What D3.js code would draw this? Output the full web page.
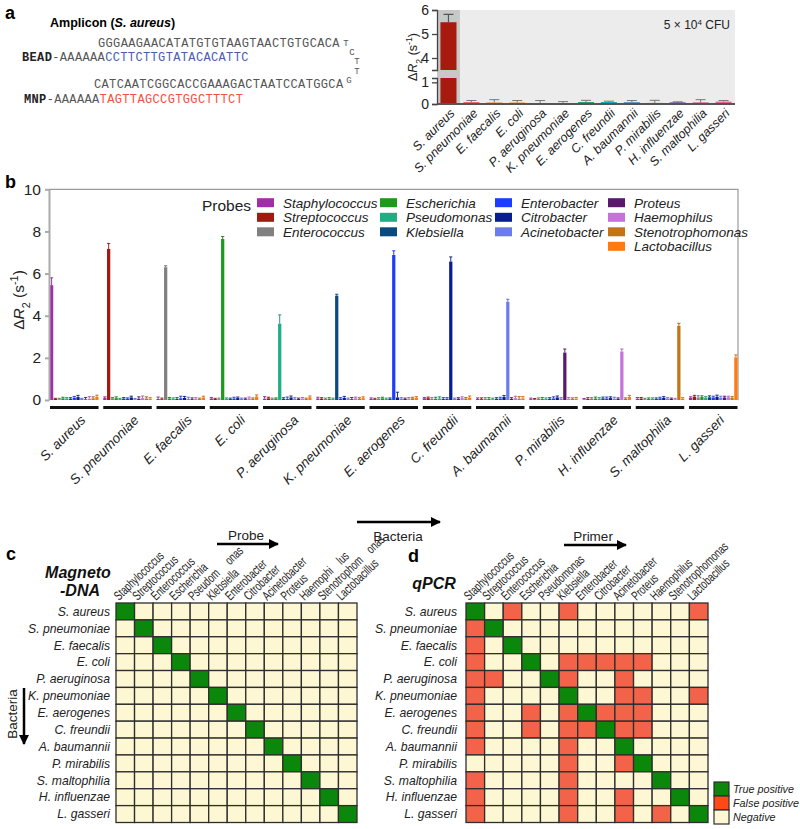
<!DOCTYPE html>
<html><head><meta charset="utf-8">
<script src="https://cdn.jsdelivr.net/npm/d3@7"></script>
<style>body{margin:0;background:#fff} text{font-family:"Liberation Sans",Arial,sans-serif}</style>
</head><body><svg id="c" width="800" height="829"></svg>
<script>
// ---------- DATA ----------
const bacteriaA = ["S. aureus","S. pneumoniae","E. faecalis","E. coli","P. aeruginosa","K. pneumoniae","E. aerogenes","C. freundii","A. baumannii","P. mirabilis","H. influenzae","S. maltophilia","L. gasseri"];
const valuesA = [5.49,0.08,0.07,0.07,0.04,0.04,0.09,0.09,0.08,0.05,0.07,0.07,0.11];
const errorsA = [0.33,0.08,0.13,0.09,0.12,0.07,0.08,0.04,0.08,0.12,0.03,0.13,0.05];
const colorsA = ["#a81a0e","#e8404a","#e0802a","#e0902a","#c8b040","#40a868","#20a060","#10a8b0","#4078a8","#4a5a98","#602088","#c8308a","#e86098"];
const yTicksAUpper = [4,5,6];
const yTicksALower = [0,1];

const bacteriaB = ["S. aureus","S. pneumoniae","E. faecalis","E. coli","P. aeruginosa","K. pneumoniae","E. aerogenes","C. freundii","A. baumannii","P. mirabilis","H. influenzae","S. maltophilia","L. gasseri"];
const probes = ["Staphylococcus","Streptococcus","Enterococcus","Escherichia","Pseudomonas","Klebsiella","Enterobacter","Citrobacter","Acinetobacter","Proteus","Haemophilus","Stenotrophomonas","Lactobacillus"];
const probeColors = ["#a02ea8","#a3180f","#808080","#1c9a1c","#1eae84","#0b4a80","#1c3cff","#0a1c94","#6c7cee","#5a1a6c","#c474d8","#c47412","#ff7a12"];
const signalB = [
 [5.45,0.05,0.04,0.08,0.07,0.06,0.11,0.14,0.05,0.03,0.06,0.08,0.15],
 [0.10,7.17,0.08,0.09,0.05,0.07,0.06,0.12,0.04,0.06,0.09,0.07,0.06],
 [0.05,0.04,6.30,0.07,0.06,0.05,0.08,0.10,0.05,0.04,0.06,0.05,0.12],
 [0.07,0.05,0.04,7.64,0.06,0.05,0.07,0.09,0.05,0.04,0.08,0.06,0.16],
 [0.06,0.08,0.05,0.07,3.62,0.06,0.05,0.12,0.06,0.05,0.07,0.05,0.13],
 [0.07,0.06,0.05,0.06,0.05,4.95,0.06,0.10,0.05,0.04,0.08,0.06,0.09],
 [0.05,0.04,0.06,0.08,0.05,0.06,6.88,0.12,0.06,0.05,0.07,0.08,0.10],
 [0.08,0.09,0.05,0.06,0.07,0.05,0.06,6.57,0.05,0.06,0.09,0.07,0.11],
 [0.05,0.04,0.06,0.05,0.04,0.06,0.07,0.14,4.66,0.05,0.09,0.06,0.08],
 [0.04,0.03,0.05,0.06,0.05,0.06,0.07,0.12,0.06,2.25,0.06,0.05,0.07],
 [0.03,0.05,0.06,0.07,0.06,0.08,0.07,0.09,0.06,0.05,2.30,0.05,0.14],
 [0.06,0.07,0.04,0.05,0.06,0.05,0.08,0.10,0.06,0.05,0.04,3.52,0.06],
 [0.10,0.16,0.12,0.14,0.11,0.13,0.12,0.15,0.11,0.12,0.13,0.10,2.02]
];
const errorB = [
 [0.35,0.03,0.04,0.05,0.04,0.05,0.06,0.08,0.03,0.09,0.10,0.07,0.08],
 [0.05,0.26,0.04,0.06,0.03,0.05,0.04,0.06,0.03,0.09,0.10,0.08,0.05],
 [0.09,0.05,0.07,0.05,0.04,0.06,0.10,0.07,0.08,0.06,0.05,0.04,0.06],
 [0.05,0.03,0.05,0.12,0.04,0.04,0.06,0.05,0.04,0.05,0.06,0.04,0.08],
 [0.10,0.05,0.04,0.03,0.42,0.05,0.09,0.07,0.05,0.04,0.05,0.04,0.06],
 [0.06,0.05,0.04,0.05,0.04,0.07,0.05,0.07,0.04,0.08,0.06,0.05,0.06],
 [0.05,0.04,0.05,0.05,0.04,0.04,0.20,0.25,0.05,0.04,0.05,0.05,0.06],
 [0.04,0.05,0.06,0.07,0.08,0.06,0.05,0.22,0.04,0.05,0.06,0.05,0.08],
 [0.05,0.06,0.05,0.06,0.05,0.05,0.06,0.07,0.12,0.06,0.09,0.10,0.08],
 [0.05,0.04,0.05,0.06,0.05,0.05,0.08,0.07,0.05,0.17,0.06,0.05,0.05],
 [0.04,0.06,0.05,0.07,0.05,0.06,0.07,0.06,0.07,0.05,0.12,0.05,0.08],
 [0.06,0.05,0.04,0.05,0.04,0.05,0.05,0.06,0.05,0.04,0.04,0.12,0.05],
 [0.05,0.06,0.08,0.06,0.05,0.07,0.06,0.08,0.07,0.06,0.05,0.06,0.12]
];
const yTicksB = [0,2,4,6,8,10];

const matrixRows = ["S. aureus","S. pneumoniae","E. faecalis","E. coli","P. aeruginosa","K. pneumoniae","E. aerogenes","C. freundii","A. baumannii","P. mirabilis","S. maltophilia","H. influenzae","L. gasseri"];
const headersC = ["Staphylococcus","Streptococcus","Enterococcus","Escherichia","Pseudom     onas","Klebsiella","Enterobacter","Citrobacter","Acinetobacter","Proteus","Haemophi    lus","Stenotrophom    onas","Lactobacillus"];
const headersD = ["Staphylococcus","Streptococcus","Enterococcus","Escherichia","Pseudomonas","Klebsiella","Enterobacter","Citrobacter","Acinetobacter","Proteus","Haemophilus","Stenotrophomonas","Lactobacillus"];
// T = true positive, F = false positive, . = negative
const magnetoDNA = [
 "T............",".T...........","..T..........","...T.........","....T........",".....T.......","......T......",
 ".......T.....","........T....",".........T...","..........T..","...........T.","............T"];
const qPCR = [
 "T.F..F......F","FT...........","F.T..........","F..T.FFFFF...","FF..TF..F....","F....T..FF..F","F..F.FTFFF...",
 "F..F.FFTFF...","F....F..T....",".....F..FT...","F....F....T..","F....F..F..T.","F....F..F.F.T"];
const legendD = [["T","True positive"],["F","False positive"],[".","Negative"]];

// ---------- DRAW ----------
const svg = d3.select("#c");
svg.append("rect").attr("width",800).attr("height",829).attr("fill","#fff");
const MONO = "'Liberation Mono','DejaVu Sans Mono',monospace";
const CHAR_W = 7.56;

function dR2(t, size){
  t.append("tspan").text("Δ");
  t.append("tspan").attr("font-style","italic").text("R");
  t.append("tspan").attr("font-size",size*0.7).attr("baseline-shift","sub").text("2");
  t.append("tspan").text(" (s");
  t.append("tspan").attr("font-size",size*0.7).attr("baseline-shift","super").text("-1");
  t.append("tspan").text(")");
}
function panelLabel(x,y,l){ svg.append("text").attr("x",x).attr("y",y).attr("font-size",18).attr("font-weight","bold").text(l); }

// ===== Panel a (left) =====
panelLabel(5,19,"a");
const am = svg.append("text").attr("x",50).attr("y",27).attr("font-size",12.5).attr("font-weight","bold");
am.append("tspan").text("Amplicon (");
am.append("tspan").attr("font-style","italic").text("S. aureus");
am.append("tspan").text(")");
function seq(x,y,parts){
  const t = svg.append("text").attr("y",y).style("font-family",MONO).attr("font-size",12);
  let i = 0;
  parts.forEach(p=>{
    const xs = p[0].split("").map((_,j)=>(x+(i+j)*CHAR_W).toFixed(2)).join(" ");
    const s=t.append("tspan").attr("x",xs).attr("fill",p[1]).text(p[0]);
    if(p[2]) s.attr("font-weight","bold");
    i += p[0].length;
  });
}
seq(98,47,[["GGGAAGAACATATGTGTAAGTAACTGTGCACA","#555"]]);
seq(22,61,[["BEAD","#222",1],["-AAAAAA","#555"],["CCTTCTTGTATACACATTC","#4a5cb0"]]);
seq(94,88,[["CATCAATCGGCACCGAAAGACTAATCCATGGCA","#555"]]);
seq(24,103,[["MNP","#222",1],["-AAAAAA","#555"],["TAGTTAGCCGTGGCTTTCT","#f0503e"]]);
[["T",346,44],["C",352,53],["T",357,62],["T",357,71.5],["G",349,81]].forEach(d=>{
  svg.append("text").attr("x",d[1]).attr("y",d[2]).attr("text-anchor","middle").attr("dominant-baseline","central")
   .style("font-family",MONO).attr("font-size",9).attr("fill","#555").text(d[0]);
});

// ===== Panel a (right) =====
const xA = d3.scaleBand().domain(bacteriaA).range([437,735]).paddingInner(0.3).paddingOuter(0.15);
const yUp = d3.scaleLinear().domain([3.5,6]).range([70,10]);
const yLo = d3.scaleLinear().domain([0,1.2]).range([104,78]);
svg.append("rect").attr("x",437).attr("y",10).attr("width",298).attr("height",94).attr("fill","#ececec");
svg.append("rect").attr("x",437).attr("y",10).attr("width",xA.step()).attr("height",94).attr("fill","#c8c8c8");
const gA = svg.append("g");
bacteriaA.forEach((b,i)=>{
  const v=valuesA[i], e=errorsA[i], x=xA(b), w=xA.bandwidth(), cx=x+w/2;
  if(v>1.2){
    gA.append("rect").attr("x",x).attr("width",w).attr("y",yLo(1.2)).attr("height",yLo(0)-yLo(1.2)).attr("fill",colorsA[i]);
    gA.append("rect").attr("x",x).attr("width",w).attr("y",yUp(v)).attr("height",yUp(3.5)-yUp(v)).attr("fill",colorsA[i]);
    gA.append("path").attr("d",`M${cx},${yUp(v)}V${yUp(v+e)}M${cx-5},${yUp(v+e)}H${cx+5}`).attr("stroke","#555").attr("stroke-width",1.2);
  } else {
    gA.append("path").attr("d",`M${cx},${yLo(v)}V${yLo(v+e)}M${cx-5},${yLo(v+e)}H${cx+5}`).attr("stroke","#777").attr("stroke-width",1);
    gA.append("rect").attr("x",x).attr("width",w).attr("y",yLo(v)).attr("height",yLo(0)-yLo(v)).attr("fill",colorsA[i]);
  }
});
const axUp = svg.append("g").attr("transform","translate(437,0)").call(d3.axisLeft(yUp).tickValues(yTicksAUpper).tickSize(5).tickSizeOuter(5).tickFormat(d3.format("d")));
const axLo = svg.append("g").attr("transform","translate(437,0)").call(d3.axisLeft(yLo).tickValues(yTicksALower).tickSize(5).tickSizeOuter(5).tickFormat(d3.format("d")));
[axUp,axLo].forEach(a=>{ a.selectAll("path,line").attr("stroke","#444").attr("stroke-width",1.3);
  a.selectAll("text").attr("font-size",14).attr("fill","#222"); });
svg.append("line").attr("x1",437).attr("x2",735).attr("y1",104).attr("y2",104).attr("stroke","#555").attr("stroke-width",1.8);
svg.append("g").attr("transform","translate(437,104)").call(d3.axisBottom(xA).tickSize(4).tickFormat(""))
  .call(g=>{g.select(".domain").remove(); g.selectAll("line").attr("stroke","#555");});
bacteriaA.forEach(b=>{
  svg.append("text").attr("transform",`translate(${xA(b)+xA.bandwidth()/2+7},114) rotate(-45)`).attr("text-anchor","end")
   .attr("font-size",12.5).attr("font-style","italic").attr("fill","#222").text(b);
});
dR2(svg.append("text").attr("transform","translate(417,57) rotate(-90)").attr("text-anchor","middle").attr("font-size",12.5).attr("fill","#222"),12.5);
const cfu = svg.append("text").attr("x",730).attr("y",29).attr("text-anchor","end").attr("font-size",12).attr("fill","#222");
cfu.append("tspan").text("5 × 10"); cfu.append("tspan").attr("font-size",8).attr("baseline-shift","super").text("4"); cfu.append("tspan").text(" CFU");

// ===== Panel b =====
panelLabel(5,188,"b");
const yB = d3.scaleLinear().domain([0,10]).range([400,189.3]);
const xB0 = d3.scaleBand().domain(bacteriaB).range([50,737.5]).paddingInner(0.089);
const xB1 = d3.scaleBand().domain(probes).range([0,xB0.bandwidth()]).paddingInner(0.14);
svg.append("path").attr("d",`M49,189.3H738V400`).attr("fill","none").attr("stroke","#9a9a9a").attr("stroke-width",1.2);
const gB = svg.append("g");
bacteriaB.forEach((b,g)=>{
  probes.forEach((p,k)=>{
    const v=signalB[g][k], e=errorB[g][k], x=xB0(b)+xB1(p), w=xB1.bandwidth(), cx=x+w/2;
    const col = probeColors[k];
    gB.append("path").attr("d",`M${cx},${yB(v)}V${yB(v+e)}M${cx-1.6},${yB(v+e)}H${cx+1.6}`).attr("stroke",d3.color(col).darker(0.6)).attr("stroke-width",0.9);
    gB.append("rect").attr("x",x).attr("width",w).attr("y",yB(v)).attr("height",yB(0)-yB(v)).attr("fill",col);
  });
  gB.append("rect").attr("x",xB0(b)).attr("width",xB0.bandwidth()).attr("y",406).attr("height",3).attr("fill","#111");
  svg.append("text").attr("transform",`translate(${xB0(b)+xB0.bandwidth()/2+12},421) rotate(-45)`).attr("text-anchor","end")
    .attr("font-size",13.5).attr("font-style","italic").attr("fill","#222").text(b);
});
const axB = svg.append("g").attr("transform","translate(49,0)").call(d3.axisLeft(yB).tickValues(yTicksB).tickSize(4).tickSizeOuter(0).tickPadding(4));
axB.selectAll("path,line").attr("stroke","#aaa").attr("stroke-width",2);
axB.selectAll("text").attr("font-size",15.5).attr("fill","#222");
dR2(svg.append("text").attr("transform","translate(24,300) rotate(-90)").attr("text-anchor","middle").attr("font-size",15.5).attr("fill","#222"),15.5);
// legend
svg.append("text").attr("x",202).attr("y",211).attr("font-size",15.5).attr("fill","#222").text("Probes");
const legCols = [[0,1,2],[3,4,5],[6,7,8],[9,10,11,12]];
const legX = [257,380,495,608];
const legY = [202.7,217.3,231.8,246.3];
legCols.forEach((c,ci)=>c.forEach((k,ri)=>{
  svg.append("rect").attr("x",legX[ci]).attr("y",legY[ri]-4.5).attr("width",17).attr("height",9).attr("fill",probeColors[k]);
  svg.append("text").attr("x",legX[ci]+26).attr("y",legY[ri]+4.8).attr("font-size",13.5).attr("font-style","italic").attr("fill","#222").text(probes[k]);
}));
// bacteria arrow
svg.append("defs").append("marker").attr("id","arr").attr("viewBox","0 0 10 10").attr("refX",9).attr("refY",5)
  .attr("markerWidth",4).attr("markerHeight",4).attr("orient","auto").append("path").attr("d","M0,0L10,5L0,10z").attr("fill","#000");
svg.append("line").attr("x1",357).attr("x2",440).attr("y1",522).attr("y2",522).attr("stroke","#000").attr("stroke-width",2.5).attr("marker-end","url(#arr)");
svg.append("text").attr("x",398).attr("y",541).attr("text-anchor","middle").attr("font-size",13.5).attr("fill","#222").text("Bacteria");

// ===== Matrices =====
const fillM = {"T":"#0b870b","F":"#f26349",".":"#fdf7d4"};
function matrix(x0,x1,y0,y1,data,headers,rowLabelX){
  const xs = d3.scaleBand().domain(d3.range(13)).range([x0,x1]);
  const ys = d3.scaleBand().domain(d3.range(13)).range([y0,y1]);
  const g = svg.append("g");
  data.forEach((row,r)=>row.split("").forEach((c,k)=>{
    g.append("rect").attr("x",xs(k)).attr("y",ys(r)).attr("width",xs.bandwidth()).attr("height",ys.bandwidth())
     .attr("fill",fillM[c]).attr("stroke","#2e2e2e").attr("stroke-width",1.3);
  }));
  matrixRows.forEach((b,r)=>{
    svg.append("text").attr("x",rowLabelX).attr("y",ys(r)+ys.bandwidth()/2+4.3).attr("text-anchor","end")
      .attr("font-size",12.2).attr("font-style","italic").attr("fill","#222").text(b);
  });
  headers.forEach((h,k)=>{
    svg.append("text").attr("transform",`translate(${xs(k)+3},${y0-2}) rotate(-44) scale(0.7,1)`)
      .attr("font-size",13).attr("fill","#222").style("white-space","pre").text(h);
  });
}
panelLabel(6,560,"c");
matrix(116,357,603,822.5,magnetoDNA,headersC,110);
svg.append("text").attr("x",78).attr("y",578).attr("text-anchor","middle").attr("font-size",16).attr("font-weight","bold").attr("font-style","italic").attr("fill","#111").text("Magneto");
svg.append("text").attr("x",80).attr("y",596).attr("text-anchor","middle").attr("font-size",16).attr("font-weight","bold").attr("font-style","italic").attr("fill","#111").text("-DNA");
svg.append("line").attr("x1",217).attr("x2",278).attr("y1",544).attr("y2",544).attr("stroke","#000").attr("stroke-width",2.5).attr("marker-end","url(#arr)");
svg.append("text").attr("x",246).attr("y",540).attr("text-anchor","middle").attr("font-size",13.5).attr("fill","#222").text("Probe");
svg.append("line").attr("x1",24).attr("x2",24).attr("y1",688).attr("y2",744).attr("stroke","#000").attr("stroke-width",2.5).attr("marker-end","url(#arr)");
svg.append("text").attr("transform","translate(17,714) rotate(-90)").attr("text-anchor","middle").attr("font-size",13.5).attr("fill","#222").text("Bacteria");

panelLabel(408,562,"d");
matrix(466,708,603,822.5,qPCR,headersD,457);
svg.append("text").attr("x",434).attr("y",589).attr("text-anchor","middle").attr("font-size",16).attr("font-weight","bold").attr("font-style","italic").attr("fill","#111").text("qPCR");
svg.append("line").attr("x1",564).attr("x2",626).attr("y1",545).attr("y2",545).attr("stroke","#000").attr("stroke-width",2.5).attr("marker-end","url(#arr)");
svg.append("text").attr("x",593).attr("y",541).attr("text-anchor","middle").attr("font-size",13.5).attr("fill","#222").text("Primer");
const legFill = {"T":"#0b870b","F":"#ff4a18",".":"#fdf7d4"};
legendD.forEach((d,i)=>{
  svg.append("rect").attr("x",714).attr("y",782+i*14).attr("width",15).attr("height",14).attr("fill",legFill[d[0]]).attr("stroke","#2e2e2e").attr("stroke-width",1.2);
  svg.append("text").attr("x",733).attr("y",793+i*14).attr("font-size",10.8).attr("font-style","italic").attr("fill","#222").text(d[1]);
});
</script></body></html>
